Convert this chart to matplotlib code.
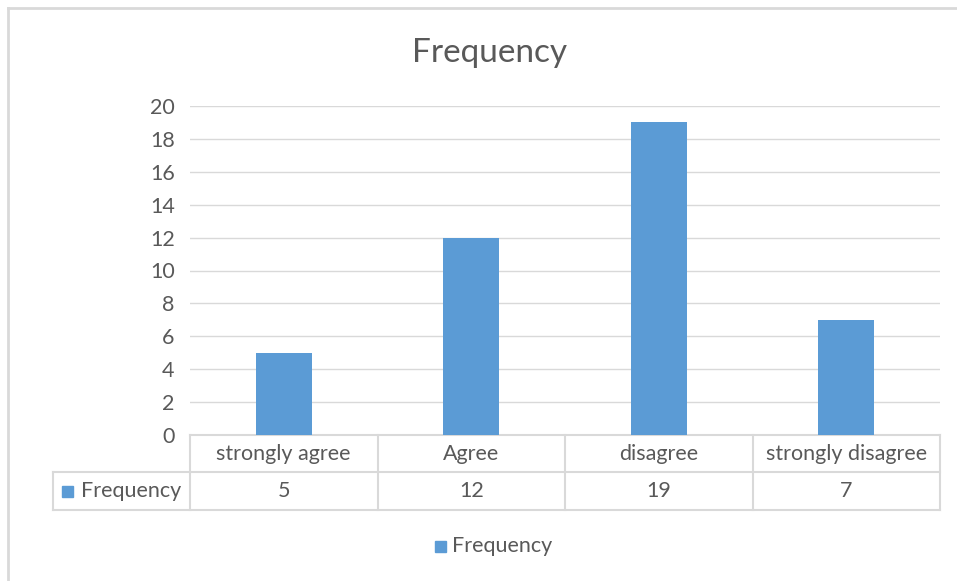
import matplotlib.pyplot as plt
from matplotlib.lines import Line2D
from matplotlib.patches import Rectangle
import matplotlib.transforms as mtransforms

plt.rcParams['font.family'] = ['Lato', 'DejaVu Sans']

categories = ["strongly agree", "Agree", "disagree", "strongly disagree"]
frequency = [5, 12, 19, 7]
series_name = "Frequency"

bar_color = "#5B9BD5"
text_color = "#595959"
line_color = "#D9D9D9"
fs = 15.5

W, H = 957, 581
fig = plt.figure(figsize=(W / 100, H / 100), dpi=100)

def fx(px):
    return px / W

def fy(py):
    return 1 - py / H

# outer chart frame
fig.add_artist(Line2D([fx(8), fx(8)], [fy(8), 0], color=line_color, lw=2))
fig.add_artist(Line2D([fx(8), 1], [fy(8), fy(8)], color=line_color, lw=2))

ax = fig.add_axes([fx(190), fy(435), fx(940) - fx(190), fy(106) - fy(435)])
x = list(range(len(categories)))
ax.bar(x, frequency, width=0.3, color=bar_color, zorder=3)
ax.set_xlim(-0.5, len(categories) - 0.5)
ax.set_ylim(0, 20)
ax.set_yticks(range(0, 21, 2))
ax.yaxis.grid(True, color=line_color, lw=1)
ax.set_axisbelow(True)
ax.tick_params(axis='y', length=0, pad=11, labelsize=fs, labelcolor=text_color)
ax.tick_params(axis='x', length=0, labelbottom=False)
for s in ax.spines.values():
    s.set_visible(False)

fig.text(fx(490), fy(53), "Frequency", ha='center', va='center',
         fontsize=24, color=text_color)

# data table under the plot
trans = mtransforms.blended_transform_factory(ax.transData, fig.transFigure)
y_top, y_mid, y_bot = fy(435), fy(472), fy(510)
x_left = -0.5 - (190 - 53) / 187.5
n = len(categories)

def hline(x0, x1, y):
    ax.add_line(Line2D([x0, x1], [y, y], transform=trans, color=line_color,
                       lw=1.5, clip_on=False))

def vline(xv, y0, y1):
    ax.add_line(Line2D([xv, xv], [y0, y1], transform=trans, color=line_color,
                       lw=1.5, clip_on=False))

hline(-0.5, n - 0.5, y_top)
hline(x_left, n - 0.5, y_mid)
hline(x_left, n - 0.5, y_bot)
for i in range(n + 1):
    vline(i - 0.5, y_top, y_bot)
vline(x_left, y_mid, y_bot)

for i, (cat, val) in enumerate(zip(categories, frequency)):
    ax.text(i, (y_top + y_mid) / 2, cat, transform=trans, ha='center',
            va='center', fontsize=fs, color=text_color)
    ax.text(i, (y_mid + y_bot) / 2, str(val), transform=trans, ha='center',
            va='center', fontsize=fs, color=text_color)

# series key in the table's row header
fig.add_artist(Rectangle((fx(62), fy(497)), fx(11), fy(486) - fy(497),
                         color=bar_color, transform=fig.transFigure))
fig.text(fx(81), (y_mid + y_bot) / 2, series_name, ha='left', va='center',
         fontsize=fs, color=text_color)

# legend below
fig.add_artist(Rectangle((fx(435), fy(552)), fx(11), fy(541) - fy(552),
                         color=bar_color, transform=fig.transFigure))
fig.text(fx(452), fy(546), series_name, ha='left', va='center',
         fontsize=fs, color=text_color)

fig.savefig("out.png", dpi=100)
